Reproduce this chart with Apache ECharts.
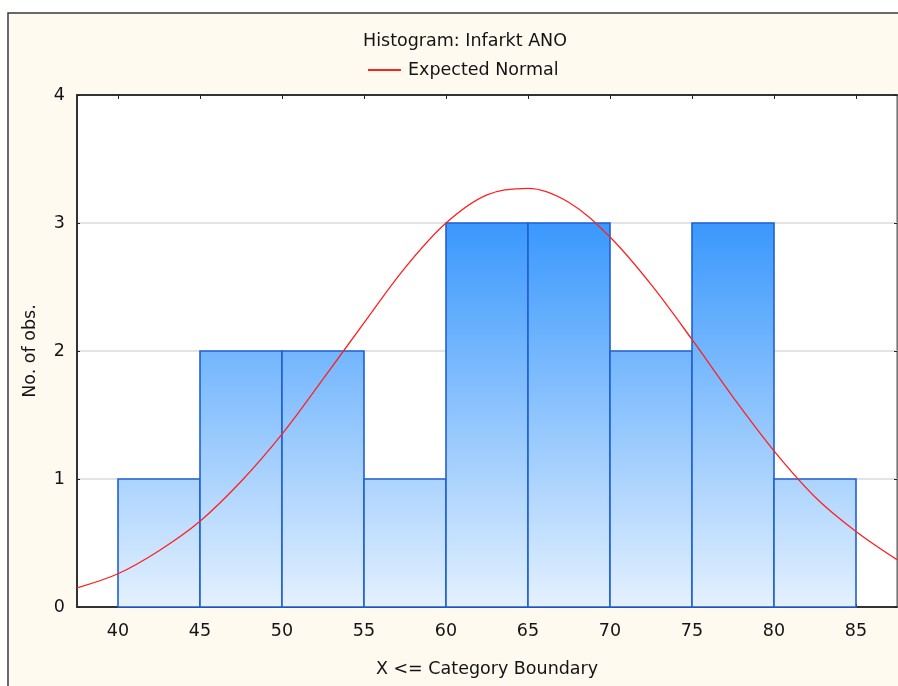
<!DOCTYPE html>
<html>
<head>
<meta charset="utf-8">
<title>Histogram: Infarkt ANO</title>
<script src="https://cdn.jsdelivr.net/npm/echarts@6/dist/echarts.min.js"></script>
<style>
  html, body { margin: 0; padding: 0; background: #ffffff; }
  #chart { width: 898px; height: 686px; }
</style>
</head>
<body>
<div id="chart"></div>
<script>
// Histogram bins: lower edges, bin width and observed counts
const binStarts = [40, 45, 50, 55, 60, 65, 70, 75, 80];
const binWidth = 5;
const binCounts = [1, 2, 2, 1, 3, 3, 2, 3, 1];

// Expected normal curve, sampled every 2.5 along the x range
const normalX = [37.5, 40, 42.5, 45, 47.5, 50, 52.5, 55, 57.5, 60, 62.5, 65, 67.5, 70, 72.5, 75, 77.5, 80, 82.5, 85, 87.5];
const normalY = [0.15, 0.26, 0.44, 0.67, 0.98, 1.35, 1.78, 2.22, 2.65, 3.0, 3.22, 3.27, 3.16, 2.89, 2.52, 2.09, 1.64, 1.22, 0.86, 0.59, 0.37];

// Axis ticks
const xTicks = [40, 45, 50, 55, 60, 65, 70, 75, 80, 85];
const xRange = [37.5, 87.5];
const yRange = [0, 4];

const FONT = 'DejaVu Sans';
const TEXT = '#141414';

const chart = echarts.init(document.getElementById('chart'), null, { renderer: 'canvas' });

const barData = binStarts.map((s, i) => [s, s + binWidth, binCounts[i]]);
const curveData = normalX.map((x, i) => [x, normalY[i]]);
const gradTop = Math.max(...binCounts);

chart.setOption({
  animation: false,
  backgroundColor: '#ffffff',
  textStyle: { fontFamily: FONT },
  graphic: [{
    type: 'rect',
    z: -10,
    silent: true,
    shape: { x: 8, y: 13, width: 900, height: 700 },
    style: { fill: '#fffaf0', stroke: '#3a3a3a', lineWidth: 1.5 }
  }],
  title: {
    text: 'Histogram: Infarkt ANO',
    left: 460,
    textAlign: 'center',
    top: 27,
    textStyle: { fontFamily: FONT, fontSize: 17.5, fontWeight: 'normal', color: TEXT }
  },
  legend: {
    data: ['Expected Normal'],
    left: 363,
    top: 56,
    icon: 'rect',
    itemWidth: 33,
    itemHeight: 2,
    itemGap: 10,
    textStyle: { fontFamily: FONT, fontSize: 17.5, color: TEXT, padding: [0, 0, 0, 2] }
  },
  grid: {
    left: 77, right: 1, top: 95, bottom: 79,
    show: true,
    backgroundColor: '#ffffff',
    borderColor: '#555555',
    borderWidth: 1
  },
  xAxis: [{
    type: 'value',
    min: xRange[0], max: xRange[1],
    name: 'X <= Category Boundary',
    nameLocation: 'middle',
    nameGap: 53,
    nameTextStyle: { fontFamily: FONT, fontSize: 17.5, color: TEXT },
    axisLine: { show: true, onZero: false, lineStyle: { color: '#333333', width: 2 } },
    axisTick: { show: true, inside: true, length: 3, customValues: xTicks, lineStyle: { color: '#222222' } },
    axisLabel: { customValues: xTicks, fontFamily: FONT, fontSize: 17.5, color: TEXT, margin: 15 },
    splitLine: { show: false }
  }, {
    type: 'value',
    position: 'top',
    min: xRange[0], max: xRange[1],
    axisLine: { show: true, onZero: false, lineStyle: { color: '#333333', width: 2 } },
    axisTick: { show: true, inside: true, length: 4, customValues: xTicks, lineStyle: { color: '#222222' } },
    axisLabel: { show: false },
    splitLine: { show: false }
  }],
  yAxis: [{
    type: 'value',
    min: yRange[0], max: yRange[1], interval: 1,
    name: 'No. of obs.',
    nameLocation: 'middle',
    nameGap: 38,
    nameRotate: 90,
    nameTextStyle: { fontFamily: FONT, fontSize: 17.5, color: TEXT },
    axisLine: { show: true, onZero: false, lineStyle: { color: '#333333', width: 2 } },
    axisTick: { show: true, inside: true, length: 3, lineStyle: { color: '#222222' } },
    axisLabel: { fontFamily: FONT, fontSize: 17.5, color: TEXT, margin: 12 },
    splitLine: { show: true, lineStyle: { color: '#dadada', width: 1.5 } }
  }, {
    type: 'value',
    position: 'right',
    min: yRange[0], max: yRange[1], interval: 1,
    axisLine: { show: true, onZero: false, lineStyle: { color: '#777777', width: 1 } },
    axisTick: { show: true, inside: true, length: 3, lineStyle: { color: '#222222' } },
    axisLabel: { show: false },
    splitLine: { show: false }
  }],
  series: [{
    type: 'custom',
    name: 'Histogram',
    xAxisIndex: 0,
    yAxisIndex: 0,
    data: barData,
    encode: { x: [0, 1], y: 2 },
    z: 2,
    renderItem: function (params, api) {
      const p0 = api.coord([api.value(0), api.value(2)]);
      const p1 = api.coord([api.value(1), 0]);
      const gTop = api.coord([xRange[0], gradTop])[1];
      const gBot = api.coord([xRange[0], 0])[1];
      return {
        type: 'rect',
        shape: { x: p0[0], y: p0[1], width: p1[0] - p0[0], height: p1[1] - p0[1] },
        style: {
          fill: new echarts.graphic.LinearGradient(0, gTop, 0, gBot, [
            { offset: 0, color: '#3a98fd' },
            { offset: 1, color: '#e4f1fe' }
          ], true),
          stroke: '#2060d4',
          lineWidth: 1.6
        }
      };
    }
  }, {
    type: 'line',
    name: 'Expected Normal',
    xAxisIndex: 0,
    yAxisIndex: 0,
    data: curveData,
    smooth: 0.35,
    showSymbol: false,
    symbol: 'none',
    z: 3,
    clip: true,
    lineStyle: { color: '#ff2020', width: 1.3 },
    itemStyle: { color: '#ff2020' }
  }]
});
</script>
</body>
</html>
